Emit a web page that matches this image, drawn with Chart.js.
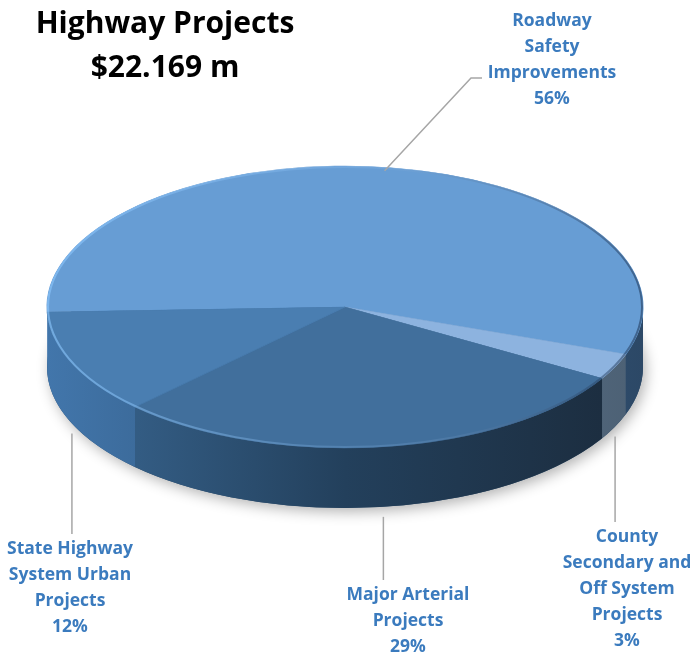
<!DOCTYPE html>
<html>
<head>
<meta charset="utf-8">
<script src="https://cdn.jsdelivr.net/npm/chart.js@4/dist/chart.umd.min.js"></script>
<style>
  html, body { margin: 0; padding: 0; background: #fff; }
</style>
</head>
<body>
<canvas id="chart" width="695" height="655"></canvas>
<script>
// data
const categories = [
  'Roadway Safety Improvements',
  'County Secondary and Off System Projects',
  'Major Arterial Projects',
  'State Highway System Urban Projects'
];
const labelLines = [
  ['Roadway', 'Safety', 'Improvements'],
  ['County', 'Secondary and', 'Off System', 'Projects'],
  ['Major Arterial', 'Projects'],
  ['State Highway', 'System Urban', 'Projects']
];
const shares = [56, 3, 29, 12];
const titleLines = ['Highway Projects', '$22.169 m'];

// look
const topColors = ['#679dd4', '#8db3df', '#416f9c', '#4a7eb1'];
const sideColors = [
  ['#4a80b8', '#3a6590', '#2c4866'],
  ['#8aa0b8', '#60788f', '#4c6074'],
  ['#3a6894', '#23405c', '#1b2b3c'],
  ['#4276ab', '#2f5378', '#253f5a']
];
const labelColor = '#3b7bbe';
const leaderColor = '#a6a6a6';

// where the tilted pie sits
const CX = 345, CY = 307, RX = 298, RY = 141, DEPTH = 60;
// label blocks: centre x, first baseline
const labelPos = [
  { x: 552, y: 26 },
  { x: 627, y: 542 },
  { x: 408, y: 600 },
  { x: 70, y: 554 }
];

function sideGradient(ctx, cols) {
  const g = ctx.createLinearGradient(CX - RX, 0, CX + RX, 0);
  g.addColorStop(0, cols[0]);
  g.addColorStop(0.5, cols[1]);
  g.addColorStop(1, cols[2]);
  return g;
}

const pie3d = {
  id: 'pie3d',
  beforeDatasetsDraw(chart) {
    const ctx = chart.ctx;
    const arcs = chart.getDatasetMeta(0).data;

    // soft shadow under the disc
    ctx.save();
    ctx.shadowColor = 'rgba(0,0,0,0.3)';
    ctx.shadowBlur = 14;
    ctx.shadowOffsetX = 3;
    ctx.shadowOffsetY = 4;
    ctx.fillStyle = '#2a4a6a';
    ctx.beginPath();
    ctx.ellipse(CX, CY + DEPTH, RX, RY, 0, 0, Math.PI * 2);
    ctx.fill();
    ctx.restore();

    // front wall, one piece per slice
    arcs.forEach((arc, i) => {
      const a = arc.startAngle, b = arc.endAngle;
      for (let k = -1; k <= 3; k++) {
        const lo = Math.max(a, 2 * Math.PI * k);
        const hi = Math.min(b, 2 * Math.PI * k + Math.PI);
        if (hi <= lo) continue;
        ctx.beginPath();
        ctx.ellipse(CX, CY, RX, RY, 0, lo, hi);
        ctx.ellipse(CX, CY + DEPTH, RX, RY, 0, hi, lo, true);
        ctx.closePath();
        ctx.fillStyle = sideGradient(ctx, sideColors[i]);
        ctx.fill();
      }
    });

    // squash the round pie onto the top face
    const a0 = arcs[0];
    const r = a0.outerRadius;
    ctx.save();
    ctx.translate(CX, CY);
    ctx.scale(RX / r, RY / r);
    ctx.translate(-a0.x, -a0.y);
  },
  afterDatasetsDraw(chart) {
    const ctx = chart.ctx;
    ctx.restore();

    // rim light along the edge of the top face
    const g = ctx.createLinearGradient(CX - RX, 0, CX + RX, 0);
    g.addColorStop(0, 'rgba(140,200,255,0.6)');
    g.addColorStop(0.5, 'rgba(150,200,250,0.2)');
    g.addColorStop(1, 'rgba(20,40,70,0.5)');
    ctx.save();
    ctx.strokeStyle = g;
    ctx.lineWidth = 2;
    ctx.beginPath();
    ctx.ellipse(CX, CY, RX - 1, RY - 1, 0, 0, Math.PI * 2);
    ctx.stroke();
    ctx.restore();
  },
  afterDraw(chart) {
    const ctx = chart.ctx;
    const arcs = chart.getDatasetMeta(0).data;

    ctx.save();
    // title
    ctx.fillStyle = '#000';
    ctx.textAlign = 'center';
    ctx.font = 'bold 30px "Open Sans"';
    ctx.fillText(titleLines[0], 165, 33);
    ctx.fillText(titleLines[1], 165, 77);

    // labels and leader lines
    ctx.font = 'bold 17.5px "Open Sans"';
    arcs.forEach((arc, i) => {
      const mid = (arc.startAngle + arc.endAngle) / 2;
      const px = CX + RX * Math.cos(mid);
      const py = CY + RY * Math.sin(mid);
      const pos = labelPos[i];
      ctx.strokeStyle = leaderColor;
      ctx.lineWidth = 1.5;
      ctx.beginPath();
      if (Math.sin(mid) < 0) {
        // back slice: leader from the top rim up to the text
        ctx.moveTo(px - 6, py + 3);
        ctx.lineTo(pos.x - 81, pos.y + 52);
        ctx.lineTo(pos.x - 70, pos.y + 52);
      } else {
        ctx.moveTo(px, py + DEPTH + 10);
        ctx.lineTo(px, pos.y - 20);
      }
      ctx.stroke();

      const lines = labelLines[i].concat([shares[i] + '%']);
      ctx.fillStyle = labelColor;
      lines.forEach((t, j) => ctx.fillText(t, pos.x, pos.y + j * 26));
    });
    ctx.restore();
  }
};

new Chart(document.getElementById('chart'), {
  type: 'pie',
  data: {
    labels: categories,
    datasets: [{
      data: shares,
      backgroundColor: topColors,
      borderColor: topColors,
      borderWidth: 1,
      clip: false
    }]
  },
  options: {
    responsive: false,
    animation: false,
    events: [],
    rotation: 268,
    layout: { padding: { left: 47, right: 52, top: 0, bottom: 59 } },
    plugins: {
      legend: { display: false },
      tooltip: { enabled: false },
      title: { display: false }
    }
  },
  plugins: [pie3d]
});
</script>
</body>
</html>
